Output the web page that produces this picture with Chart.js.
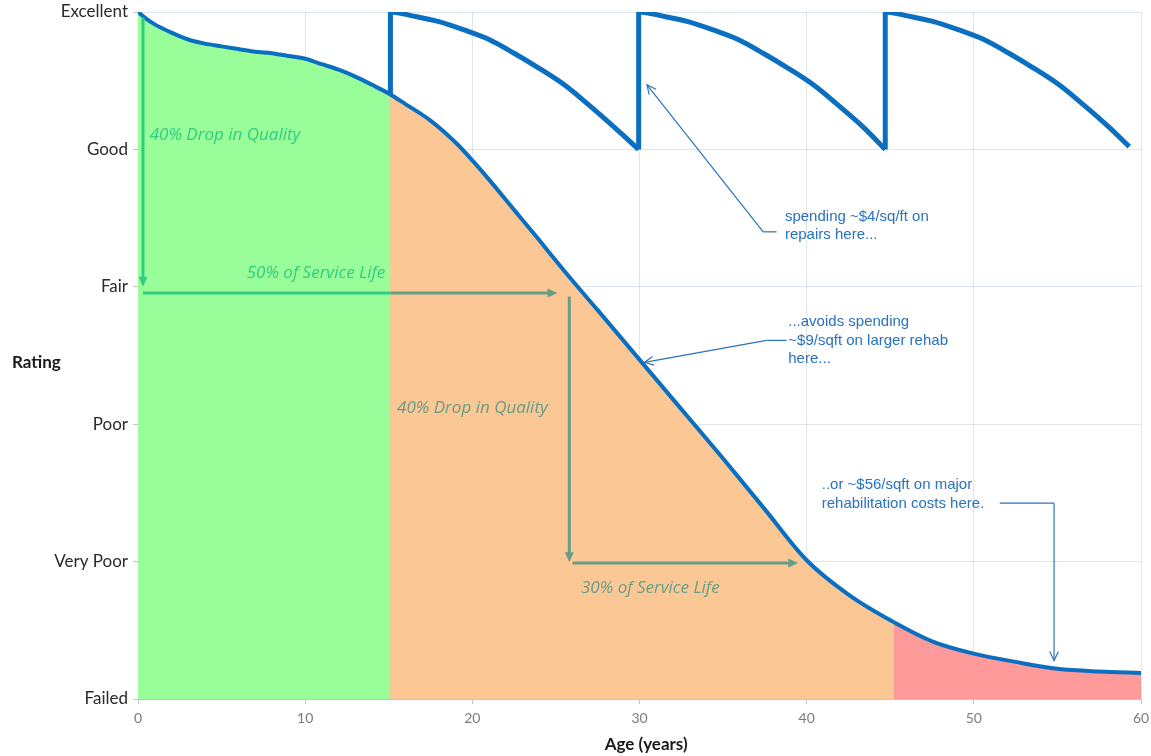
<!DOCTYPE html>
<html lang="en">
<head>
    <meta charset="UTF-8">
    <title>Condition Rating vs Age</title>
    <script src="https://cdn.jsdelivr.net/npm/chart.js"></script>
    <style>
        body {
            margin: 0;
            background: #fff;
        }
        .chart-box {
            width: 1151px;
            height: 756px;
        }
    </style>
</head>
<body>
    <div class="chart-box"><canvas id="lifeChart"></canvas></div>

    <script>
        // rating scale (0 = Failed ... 5 = Excellent)
        const ratingLabels = ["Failed", "Very Poor", "Poor", "Fair", "Good", "Excellent"];

        // deterioration curve, no maintenance
        const ages = [0, 0.5, 1, 2, 3, 4, 5, 6, 7, 8, 9, 10, 11, 12, 13, 14, 15.1, 16, 17.5, 19, 20, 21, 22.5, 24, 25, 26.3,
                      27.5, 30, 32.5, 35, 37.5, 40, 42.5, 45.2, 47.5, 50, 52.5, 55, 57.5, 60];
        const condition = [5.00, 4.95, 4.91, 4.85, 4.80, 4.77, 4.75, 4.73, 4.71, 4.70, 4.68, 4.66, 4.62, 4.58, 4.53, 4.47, 4.40, 4.33, 4.21, 4.05, 3.92, 3.78, 3.56, 3.34, 3.19, 3.00,
                           2.83, 2.47, 2.11, 1.75, 1.38, 1.01, 0.76, 0.56, 0.42, 0.33, 0.27, 0.22, 0.20, 0.19];

        // curve with periodic repairs, one list per repair cycle
        const cycle1Ages = [15.1, 15.1, 16.5, 18, 19.5, 21, 22.5, 24, 25.5, 27, 28.5, 29.95];
        const cycle1Cond = [4.40, 5.00, 4.97, 4.93, 4.87, 4.80, 4.70, 4.59, 4.47, 4.32, 4.16, 4.00];
        const cycle2Ages = [29.95, 29.95, 31.4, 32.9, 34.4, 35.9, 37.4, 38.9, 40.4, 41.9, 43.4, 44.7];
        const cycle2Cond = [4.00, 5.00, 4.97, 4.93, 4.87, 4.80, 4.70, 4.59, 4.47, 4.32, 4.16, 4.00];
        const cycle3Ages = [44.7, 44.7, 46.1, 47.6, 49.1, 50.6, 52.1, 53.6, 55.1, 56.6, 58.1, 59.3];
        const cycle3Cond = [4.00, 5.00, 4.97, 4.93, 4.87, 4.80, 4.70, 4.59, 4.47, 4.32, 4.16, 4.02];

        // age where the shaded zones change (green | orange | red)
        const zoneEnds = [15.1, 45.2];

        const blue = "#0b6fc1";
        const orange = "#fbc795";
        const noteGreen = "#2fcd82";
        const noteGrey = "#679d87";
        const noteBlue = "#2a72bd";

        function toPoints(xs, ys) {
            return xs.map((x, i) => ({ x: x, y: ys[i] }));
        }

        function zoneColor(ctx) {
            const x = ctx.p0.parsed.x;
            if (x < zoneEnds[0]) return "#99fd99";
            if (x < zoneEnds[1]) return orange;
            return "#fe9a9a";
        }

        function repairSet(xs, ys) {
            return {
                data: toPoints(xs, ys),
                borderColor: blue,
                borderWidth: 5,
                borderJoinStyle: "miter",
                cubicInterpolationMode: "monotone",
                pointRadius: 0,
                fill: false,
                order: 1
            };
        }

        // line with an arrow head at (x2,y2)
        function arrow(ctx, x1, y1, x2, y2, color, width, open) {
            const ang = Math.atan2(y2 - y1, x2 - x1);
            const len = open ? 10 : 11;
            const spread = open ? 0.45 : 0.42;
            ctx.strokeStyle = color;
            ctx.fillStyle = color;
            ctx.lineWidth = width;
            ctx.beginPath();
            ctx.moveTo(x1, y1);
            ctx.lineTo(open ? x2 : x2 - Math.cos(ang) * (len - 2), open ? y2 : y2 - Math.sin(ang) * (len - 2));
            ctx.stroke();
            ctx.beginPath();
            ctx.moveTo(x2 - Math.cos(ang - spread) * len, y2 - Math.sin(ang - spread) * len);
            ctx.lineTo(x2, y2);
            ctx.lineTo(x2 - Math.cos(ang + spread) * len, y2 - Math.sin(ang + spread) * len);
            if (open) {
                ctx.stroke();
            } else {
                ctx.closePath();
                ctx.fill();
            }
        }

        const notesPlugin = {
            id: "notes",
            afterDraw(chart) {
                const ctx = chart.ctx;
                const X = v => chart.scales.x.getPixelForValue(v);
                const Y = v => chart.scales.y.getPixelForValue(v);
                ctx.save();
                ctx.lineCap = "butt";

                // 50% life / 40% drop arrows
                arrow(ctx, X(0.3), Y(4.96), X(0.3), Y(3.0), noteGreen, 3, false);
                ctx.strokeStyle = noteGreen;
                ctx.lineWidth = 3;
                ctx.beginPath();
                ctx.moveTo(X(0.3), Y(2.955));
                ctx.lineTo(X(zoneEnds[0]), Y(2.955));
                ctx.stroke();
                arrow(ctx, X(zoneEnds[0]), Y(2.955), X(25.1), Y(2.955), noteGrey, 3, false);

                // 30% life / 40% drop arrows
                arrow(ctx, X(25.8), Y(2.93), X(25.8), Y(0.995), noteGrey, 3, false);
                arrow(ctx, X(26.0), Y(0.99), X(39.5), Y(0.99), noteGrey, 3, false);

                ctx.font = "italic 17px 'Open Sans'";
                ctx.textBaseline = "middle";
                ctx.textAlign = "left";
                ctx.fillStyle = noteGreen;
                ctx.fillText("40% Drop in Quality", X(0.7), Y(4.105));
                ctx.fillText("50% of Service Life", X(6.5), Y(3.10));
                ctx.fillStyle = noteGrey;
                ctx.fillText("40% Drop in Quality", X(15.5), Y(2.118));
                ctx.fillText("30% of Service Life", X(26.5), Y(0.808));

                // cost call-outs
                ctx.lineJoin = "miter";
                ctx.strokeStyle = noteBlue;
                ctx.lineWidth = 1.2;
                ctx.beginPath();
                ctx.moveTo(X(38.2), Y(3.40));
                ctx.lineTo(X(37.4), Y(3.40));
                ctx.stroke();
                arrow(ctx, X(37.4), Y(3.40), X(30.45), Y(4.47), noteBlue, 1.2, true);

                ctx.beginPath();
                ctx.moveTo(X(38.8), Y(2.61));
                ctx.lineTo(X(37.6), Y(2.61));
                ctx.stroke();
                arrow(ctx, X(37.6), Y(2.61), X(30.3), Y(2.45), noteBlue, 1.2, true);

                ctx.beginPath();
                ctx.moveTo(X(51.55), Y(1.425));
                ctx.lineTo(X(54.8), Y(1.425));
                ctx.stroke();
                arrow(ctx, X(54.8), Y(1.425), X(54.8), Y(0.28), noteBlue, 1.2, true);

                ctx.font = "15px 'Liberation Sans'";
                ctx.fillStyle = noteBlue;
                const lines = (arr, x, y) => arr.forEach((t, i) => ctx.fillText(t, X(x), Y(y) + i * 18.5));
                lines(["spending ~$4/sq/ft on", "repairs here..."], 38.7, 3.51);
                lines(["...avoids spending", "~$9/sqft on larger rehab", "here..."], 38.9, 2.744);
                lines(["..or ~$56/sqft on major", "rehabilitation costs here."], 40.9, 1.557);

                // axis titles
                ctx.fillStyle = "#1a1a1a";
                ctx.font = "bold 17px Lato";
                ctx.textAlign = "left";
                ctx.fillText("Rating", 12, Y(2.45));
                ctx.textAlign = "center";
                ctx.fillText("Age (years)", X(30.4), 745);
                ctx.restore();
            }
        };

        const lifeChart = new Chart(document.getElementById("lifeChart"), {
            type: "line",
            data: {
                datasets: [
                    repairSet(cycle1Ages, cycle1Cond),
                    repairSet(cycle2Ages, cycle2Cond),
                    repairSet(cycle3Ages, cycle3Cond),
                    {
                        label: "No maintenance",
                        data: toPoints(ages, condition),
                        borderColor: blue,
                        borderWidth: 4,
                        cubicInterpolationMode: "monotone",
                        pointRadius: 0,
                        fill: "origin",
                        backgroundColor: orange,
                        segment: { backgroundColor: zoneColor },
                        order: 2
                    },
                    {
                        // plain underlay so the zone joins have no white seam
                        data: toPoints(ages, condition),
                        borderWidth: 0,
                        cubicInterpolationMode: "monotone",
                        pointRadius: 0,
                        fill: "origin",
                        backgroundColor: orange,
                        order: 3
                    }
                ]
            },
            options: {
                responsive: true,
                maintainAspectRatio: false,
                animation: false,
                layout: { padding: { top: 12, right: 10, left: 0, bottom: 0 } },
                plugins: {
                    legend: { display: false },
                    tooltip: { enabled: false }
                },
                scales: {
                    x: {
                        type: "linear",
                        min: 0,
                        max: 60,
                        z: 1,
                        afterFit: s => {
                            s.height = 57;
                            s.paddingLeft = 0;
                            s.paddingRight = 0;
                        },
                        border: { color: "#c4c4c4" },
                        grid: { color: "rgba(110,135,170,0.22)", tickLength: 5, tickColor: "#c4c4c4" },
                        ticks: { stepSize: 10, padding: 6, color: "#7b7b7b", font: { family: "Lato", size: 14 } }
                    },
                    y: {
                        type: "linear",
                        min: 0,
                        max: 5,
                        z: 1,
                        afterFit: s => {
                            s.width = 138;
                            s.paddingTop = 0;
                            s.paddingBottom = 0;
                        },
                        border: { color: "#c4c4c4" },
                        grid: { color: "rgba(110,135,170,0.22)", tickLength: 5, tickColor: "#c4c4c4" },
                        ticks: {
                            stepSize: 1,
                            padding: 5,
                            color: "#2a2a2a",
                            font: { family: "Lato", size: 17 },
                            callback: v => ratingLabels[v]
                        }
                    }
                }
            },
            plugins: [notesPlugin]
        });
    </script>
</body>
</html>
